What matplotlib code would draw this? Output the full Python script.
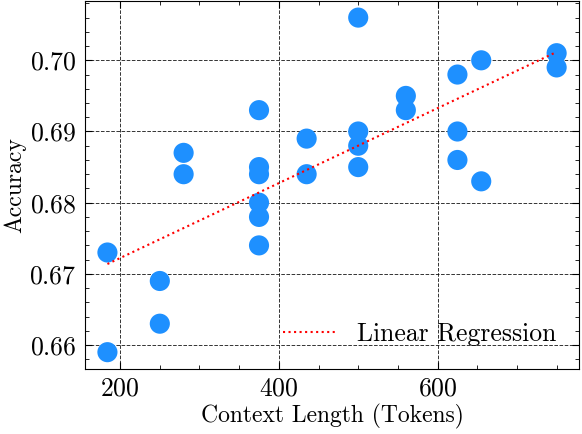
import numpy as np
import matplotlib
matplotlib.use('Agg')
import matplotlib.pyplot as plt
from matplotlib.ticker import AutoMinorLocator

# context length (tokens) and accuracy
context_len = [184, 184, 250, 250, 280, 280,
               375, 375, 375, 375, 375, 375,
               435, 435, 500, 500, 500, 500,
               560, 560, 625, 625, 625, 655, 655, 750, 750]
accuracy = [0.673, 0.659, 0.669, 0.663, 0.687, 0.684,
            0.693, 0.685, 0.684, 0.680, 0.678, 0.674,
            0.689, 0.684, 0.706, 0.690, 0.688, 0.685,
            0.695, 0.693, 0.698, 0.690, 0.686, 0.700, 0.683, 0.701, 0.699]

plt.rcParams['font.family'] = 'cmr10'
plt.rcParams['mathtext.fontset'] = 'cm'
plt.rcParams['axes.formatter.use_mathtext'] = True
plt.rcParams['font.size'] = 17

x = np.array(context_len)
y = np.array(accuracy)
slope, intercept = np.polyfit(x, y, 1)
x_fit = np.array([x.min(), x.max()])

fig, ax = plt.subplots(figsize=(5.82, 4.34), dpi=100)
ax.scatter(x, y, s=210, color='#1E90FF', edgecolors='none', zorder=3)
ax.plot(x_fit, slope * x_fit + intercept, color='red', linestyle=':', linewidth=1.5,
        label='Linear Regression', zorder=4)

ax.set_xlabel('Context Length (Tokens)', fontsize=17, labelpad=2)
ax.set_ylabel('Accuracy', fontsize=17, labelpad=2)
ax.set_xticks([200, 400, 600])
ax.set_yticks([0.66, 0.67, 0.68, 0.69, 0.70])
ax.xaxis.set_minor_locator(AutoMinorLocator(4))
ax.yaxis.set_minor_locator(AutoMinorLocator(5))
ax.tick_params(which='both', direction='in', top=True, right=True, labelsize=18.5)
ax.tick_params(which='major', length=5, width=0.8, pad=6)
ax.tick_params(which='minor', length=3, width=0.6)
ax.grid(True, which='major', color='black', linestyle='--', linewidth=0.7, alpha=0.8)
ax.legend(loc='lower right', frameon=False, fontsize=18.5, handlelength=2.0,
          handletextpad=0.85, borderaxespad=0.5)

fig.subplots_adjust(left=0.146, right=0.995, top=0.998, bottom=0.15)
fig.savefig('out.png', dpi=100)
